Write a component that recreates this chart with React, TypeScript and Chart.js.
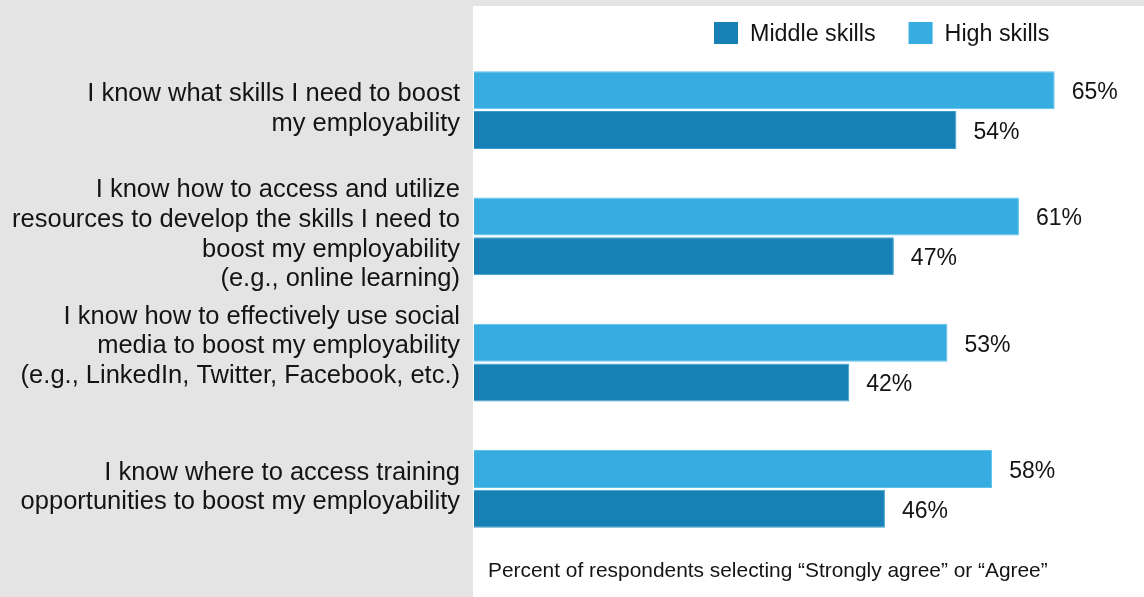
import React, { useEffect, useRef } from "react";
import { Chart, registerables } from "chart.js";

Chart.register(...registerables);

const categories: string[][] = [
  ["I know what skills I need to boost", "my employability"],
  [
    "I know how to access and utilize",
    "resources to develop the skills I need to",
    "boost my employability",
    "(e.g., online learning)",
  ],
  [
    "I know how to effectively use social",
    "media to boost my employability",
    "(e.g., LinkedIn, Twitter, Facebook, etc.)",
    "",
  ],
  ["I know where to access training", "opportunities to boost my employability"],
];

const highSkills = [65, 61, 53, 58];
const middleSkills = [54, 47, 42, 46];
const seriesNames = ["High skills", "Middle skills"];
const legendOrder = ["Middle skills", "High skills"];
const footnote = "Percent of respondents selecting \u201CStrongly agree\u201D or \u201CAgree\u201D";
const axisMax = 75;

const FONT = "'Liberation Sans', Arial, sans-serif";
const TEXT = "#141414";
const GRAY = "#e4e4e4";
const LIGHT = "#36ace1";
const DARK = "#1781b5";

export default function App() {
  const ref = useRef<HTMLCanvasElement | null>(null);

  useEffect(() => {
    const canvas = ref.current;
    if (!canvas) return;

    const backgroundPlugin = {
      id: "panelBackground",
      beforeDraw(chart: any) {
        const { ctx, width, height, chartArea } = chart;
        ctx.save();
        ctx.fillStyle = GRAY;
        ctx.fillRect(0, 0, width, height);
        ctx.fillStyle = "#ffffff";
        ctx.fillRect(chartArea.left - 1, 6, width - chartArea.left + 1, height - 6);
        ctx.restore();
      },
    };

    const labelsPlugin = {
      id: "valueLabels",
      afterDatasetsDraw(chart: any) {
        const { ctx } = chart;
        ctx.save();
        ctx.font = `23px ${FONT}`;
        ctx.fillStyle = TEXT;
        ctx.textAlign = "left";
        ctx.textBaseline = "middle";
        chart.data.datasets.forEach((ds: any, di: number) => {
          const meta = chart.getDatasetMeta(di);
          meta.data.forEach((bar: any, i: number) => {
            ctx.fillText(`${ds.data[i]}%`, bar.x + 17, bar.y + 2.5);
          });
        });
        ctx.restore();
      },
      afterDraw(chart: any) {
        const { ctx, chartArea } = chart;
        ctx.save();
        // legend
        ctx.font = `23.3px ${FONT}`;
        ctx.textBaseline = "middle";
        ctx.textAlign = "left";
        let x = 714;
        legendOrder.forEach((name) => {
          const ds = chart.data.datasets.find((d: any) => d.label === name);
          ctx.fillStyle = ds.backgroundColor;
          ctx.fillRect(x, 22, 24, 22);
          ctx.fillStyle = TEXT;
          ctx.fillText(name, x + 36, 35);
          x += 36 + ctx.measureText(name).width + 33;
        });
        // footnote
        ctx.font = `20.9px ${FONT}`;
        ctx.fillStyle = TEXT;
        ctx.fillText(footnote, chartArea.left + 14, 571.5);
        ctx.restore();
      },
    };

    const chart = new Chart(canvas, {
      type: "bar",
      data: {
        labels: categories,
        datasets: [
          {
            label: seriesNames[0],
            data: highSkills,
            backgroundColor: LIGHT,
            borderColor: "#5cc2ec",
            borderWidth: 1,
            categoryPercentage: 0.627,
            barPercentage: 0.962,
          },
          {
            label: seriesNames[1],
            data: middleSkills,
            backgroundColor: DARK,
            borderColor: "#3d9fd0",
            borderWidth: 1,
            categoryPercentage: 0.627,
            barPercentage: 0.962,
          },
        ],
      },
      options: {
        indexAxis: "y",
        responsive: false,
        animation: false,
        devicePixelRatio: 1,
        layout: { padding: { top: 47, bottom: 45, left: 0, right: 0 } },
        plugins: {
          legend: { display: false },
          tooltip: { enabled: false },
          title: { display: false },
        },
        scales: {
          x: {
            type: "linear",
            min: 0,
            max: axisMax,
            display: false,
          },
          y: {
            position: "left",
            grid: { display: false, drawTicks: false, tickLength: 0 },
            border: { display: false },
            ticks: {
              color: TEXT,
              font: { family: FONT, size: 25.5, lineHeight: 1.165 },
              padding: 14,
              labelOffset: -1.5,
              autoSkip: false,
            },
            afterFit(scale: any) {
              scale.width = 474;
            },
          },
        },
      },
      plugins: [backgroundPlugin, labelsPlugin],
    } as any);

    return () => chart.destroy();
  }, []);

  return (
    <div style={{ position: "fixed", left: 0, top: 0, width: 1144, height: 597 }}>
      <canvas ref={ref} width={1144} height={597} style={{ display: "block" }} />
    </div>
  );
}
